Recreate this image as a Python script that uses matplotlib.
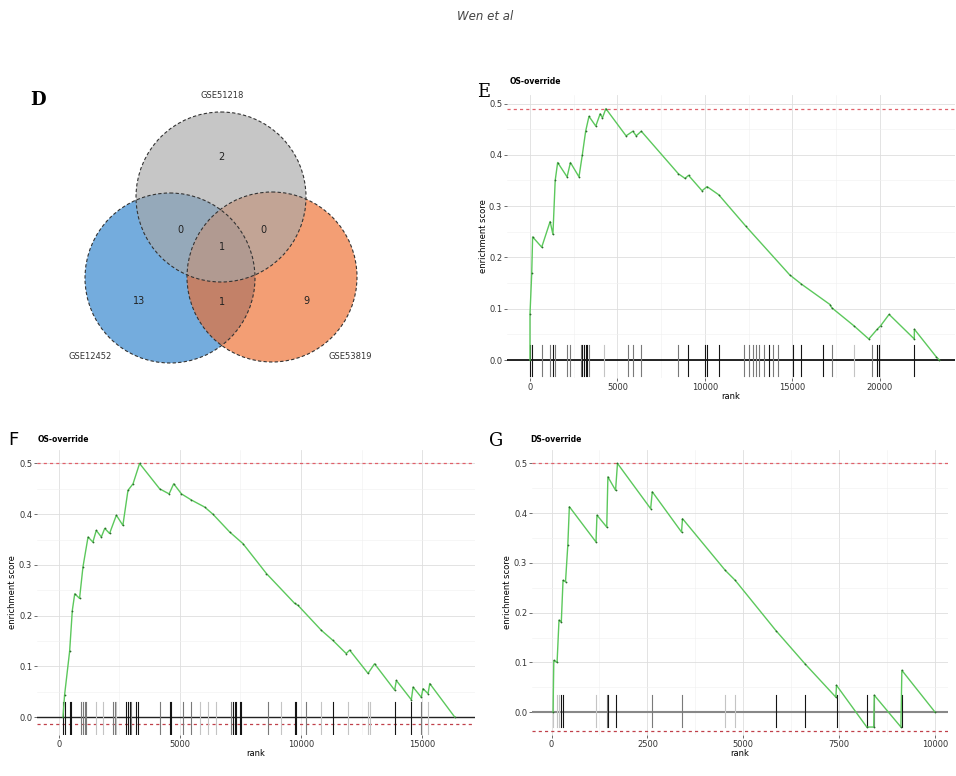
import matplotlib
matplotlib.use('Agg')
import matplotlib.pyplot as plt
from matplotlib.patches import Circle

# ---- panel D: venn counts ----
venn_sets = ['GSE51218', 'GSE12452', 'GSE53819']
venn_counts = {'top': 2, 'left': 13, 'right': 9,
               'top_left': 0, 'top_right': 0, 'left_right': 1, 'all': 1}

# ---- panel E: running enrichment score ----
e_title = 'OS-override'
e_rank = [0, 0, 100, 150, 670, 1150, 1310, 1440, 1580, 2120, 2310, 2800, 2990,
          3180, 3370, 3760, 4010, 4140, 4335, 5490, 5880, 6070, 6360, 8480,
          8860, 9060, 9830, 10120, 10790, 12330, 14840, 15510, 17150, 17240,
          18500, 19360, 19840, 20040, 20520, 21960, 21965, 23220, 23400]
e_score = [0.0, 0.09, 0.17, 0.24, 0.22, 0.27, 0.245, 0.35, 0.385, 0.357, 0.385,
           0.357, 0.40, 0.446, 0.475, 0.456, 0.48, 0.472, 0.49, 0.437, 0.446,
           0.437, 0.446, 0.363, 0.354, 0.36, 0.33, 0.338, 0.322, 0.261, 0.166,
           0.148, 0.108, 0.102, 0.067, 0.041, 0.06, 0.067, 0.089, 0.041, 0.06,
           0.006, 0.0]
e_hits = [0, 96, 674, 1156, 1310, 1445, 2119, 2312, 2890, 2987, 3083, 3179,
          3276, 3372, 4239, 5588, 5877, 6358, 8478, 9056, 10019, 10116, 10790,
          12235, 12524, 12717, 12910, 13102, 13391, 13680, 13873, 14162, 15029,
          15511, 16763, 17245, 18497, 19557, 19846, 19942, 21965]
e_shade = [2, 2, 1, 1, 2, 1, 1, 1, 1, 2, 2, 2, 2, 1, 0, 1, 1, 1, 1, 2, 2, 2, 2,
           1, 1, 1, 1, 1, 1, 2, 1, 1, 2, 2, 2, 1, 0, 1, 2, 2, 2]
e_max = 0.49

# ---- panel F ----
f_title = 'OS-override'
f_rank = [165, 230, 440, 550, 650, 850, 990, 1200, 1400, 1540, 1750, 1890, 2090,
          2370, 2640, 2850, 3060, 3330, 4160, 4550, 4740, 5060, 5470, 6020,
          6360, 7050, 7600, 8570, 9740, 9880, 10840, 11320, 11870, 12010,
          12770, 13040, 13870, 13940, 14560, 14630, 14970, 15040, 15250, 15320,
          16350]
f_score = [0.0, 0.043, 0.13, 0.21, 0.243, 0.234, 0.296, 0.355, 0.345, 0.368,
           0.355, 0.372, 0.362, 0.398, 0.378, 0.447, 0.46, 0.5, 0.45, 0.44,
           0.46, 0.44, 0.428, 0.414, 0.4, 0.365, 0.342, 0.283, 0.224, 0.22,
           0.171, 0.151, 0.125, 0.132, 0.086, 0.105, 0.053, 0.072, 0.034, 0.059,
           0.039, 0.056, 0.046, 0.066, 0.0]
f_hits = [165, 234, 441, 510, 923, 992, 1061, 1129, 1543, 1818, 2231, 2300,
          2369, 2782, 2851, 2920, 2989, 3196, 3264, 4160, 4573, 4642, 5124,
          5468, 5813, 6157, 6501, 7121, 7190, 7259, 7328, 7466, 7534, 8636,
          9187, 9738, 9807, 10220, 10840, 11322, 11942, 12769, 12837, 13871,
          14559, 14972, 15248]
f_shade = [2, 2, 2, 2, 1, 1, 1, 1, 0, 0, 1, 1, 0, 2, 2, 2, 1, 2, 2, 1, 2, 2, 1,
           1, 0, 0, 0, 1, 2, 2, 2, 2, 2, 1, 0, 2, 2, 1, 0, 2, 0, 0, 0, 2, 2, 1, 0]
f_max = 0.5
f_min = -0.013

# ---- panel G ----
g_title = 'DS-override'
g_rank = [40, 60, 145, 195, 255, 300, 365, 425, 465, 1160, 1185, 1440, 1470,
          1670, 1720, 2585, 2627, 3390, 3415, 4530, 4790, 5850, 6610, 7415,
          7430, 8220, 8400, 8415, 9110, 9135, 10000]
g_score = [0.0, 0.104, 0.1, 0.185, 0.181, 0.265, 0.262, 0.336, 0.413, 0.342,
           0.396, 0.372, 0.473, 0.446, 0.5, 0.409, 0.443, 0.362, 0.389, 0.285,
           0.265, 0.164, 0.097, 0.03, 0.054, -0.03, -0.03, 0.034, -0.03, 0.084,
           0.0]
g_hits = [42, 144, 195, 254, 297, 1161, 1441, 1466, 1669, 2627, 3390, 4534,
          4788, 5847, 6610, 7432, 8220, 8415, 9136]
g_shade = [0, 0, 0, 2, 2, 0, 1, 2, 2, 1, 1, 0, 0, 2, 2, 2, 2, 1, 2]
g_max = 0.5
g_min = -0.038

W, H = 956, 776
fig = plt.figure(figsize=(W / 100, H / 100), dpi=100)
shade_cols = ['#c4c4c4', '#7a7a7a', '#151515']


def px_axes(x0, y0, x1, y1):
    return fig.add_axes([x0 / W, 1 - y1 / H, (x1 - x0) / W, (y1 - y0) / H])


fig.text(485 / W, 1 - 16 / H, 'Wen et al', style='italic', fontsize=8.5,
         color='#444444', ha='center', va='center')

# ---- venn ----
axv = px_axes(0, 60, 470, 400)
axv.set_xlim(0, 470)
axv.set_ylim(400, 60)
axv.axis('off')
circles = [((221, 197), '#a8a8a8'), ((170, 278), '#2a80cc'), ((272, 277), '#ee6a2a')]
for (c, col) in [circles[1], circles[2], circles[0]]:
    axv.add_patch(Circle(c, 85, facecolor=col, alpha=0.65, edgecolor='none'))
for (c, col) in circles:
    axv.add_patch(Circle(c, 85, facecolor='none', edgecolor='#333333',
                         lw=0.8, ls=(0, (3, 2))))
axv.text(222, 95, venn_sets[0], fontsize=6, ha='center', va='center', color='#333333')
axv.text(90, 357, venn_sets[1], fontsize=6, ha='center', va='center', color='#333333')
axv.text(350, 357, venn_sets[2], fontsize=6, ha='center', va='center', color='#333333')
pos = {'top': (221, 157), 'left': (139, 301), 'right': (306, 301),
       'top_left': (180, 230), 'top_right': (263, 230),
       'left_right': (222, 302), 'all': (222, 247)}
for k, v in venn_counts.items():
    axv.text(*pos[k], str(v), fontsize=7, ha='center', va='center', color='#222222')
fig.text(38 / W, 1 - 100 / H, 'D', fontsize=13, family='DejaVu Serif',
         fontweight='bold', ha='center', va='center')


def gsea(ax, rank, score, hits, shade, xlim, ylim, xticks, top, bottom=None,
         rug=(0.03, -0.03), zero_col='black', zero_lw=1.2):
    ax.set_xlim(*xlim)
    ax.set_ylim(*ylim)
    for s in ax.spines.values():
        s.set_visible(False)
    ax.set_xticks(xticks)
    ax.set_yticks([0, 0.1, 0.2, 0.3, 0.4, 0.5])
    ax.set_yticklabels(['0.0', '0.1', '0.2', '0.3', '0.4', '0.5'])
    ax.set_xticks([x + (xticks[1] - xticks[0]) / 2 for x in xticks[:-1]], minor=True)
    ax.set_yticks([0.05, 0.15, 0.25, 0.35, 0.45], minor=True)
    ax.grid(True, which='major', color='#dedede', lw=0.6)
    ax.grid(True, which='minor', color='#f0f0f0', lw=0.4)
    ax.tick_params(which='major', labelsize=6, length=2, width=0.5,
                   colors='#333333', pad=1.5)
    ax.tick_params(which='minor', length=0)
    ax.set_axisbelow(True)
    ax.axhline(0, color=zero_col, lw=zero_lw, zorder=2)
    ax.axhline(top, color='#e0606a', lw=0.9, ls=(0, (2.5, 2.5)), zorder=2)
    if bottom is not None:
        ax.axhline(bottom, color='#c0404a', lw=0.9, ls=(0, (2.5, 2.5)), zorder=2)
    for h, d in zip(hits, shade):
        ax.plot([h, h], rug, color=shade_cols[d], lw=0.8, zorder=3)
    ax.plot(rank, score, color='#5cc85c', lw=1.0, zorder=4)
    ax.plot(rank, score, 'o', color='#2d6b2d', ms=1.3, mew=0, zorder=5)
    ax.set_xlabel('rank', fontsize=6, labelpad=0)
    ax.set_ylabel('enrichment score', fontsize=6, labelpad=1)


axe = px_axes(507, 95, 955, 378)
gsea(axe, e_rank, e_score, e_hits, e_shade, (-1314, 24286), (-0.035, 0.5166),
     [0, 5000, 10000, 15000, 20000], e_max, rug=(0.029, -0.032))
fig.text(510 / W, 1 - 82 / H, e_title, fontsize=5.5, fontweight='bold', va='center')
fig.text(477 / W, 1 - 92 / H, 'E', fontsize=13, family='DejaVu Serif', va='center')

axf = px_axes(37, 450, 475, 735)
gsea(axf, f_rank, f_score, f_hits, f_shade, (-909, 17190), (-0.0355, 0.5266),
     [0, 5000, 10000, 15000], f_max, bottom=f_min, rug=(0.03, -0.035),
     zero_col='#222222', zero_lw=1.0)
fig.text(38 / W, 1 - 440 / H, f_title, fontsize=5.5, fontweight='bold', va='center')
fig.text(8 / W, 1 - 440 / H, 'F', fontsize=13, family='DejaVu Sans', va='center')

axg = px_axes(532, 450, 948, 735)
gsea(axg, g_rank, g_score, g_hits, g_shade, (-509, 10338), (-0.046, 0.527),
     [0, 2500, 5000, 7500, 10000], g_max, bottom=g_min, rug=(0.035, -0.03),
     zero_col='#888888', zero_lw=1.5)
fig.text(530 / W, 1 - 440 / H, g_title, fontsize=5.5, fontweight='bold', va='center')
fig.text(489 / W, 1 - 441 / H, 'G', fontsize=13, family='DejaVu Serif', va='center')

fig.savefig('out.png', dpi=100)
